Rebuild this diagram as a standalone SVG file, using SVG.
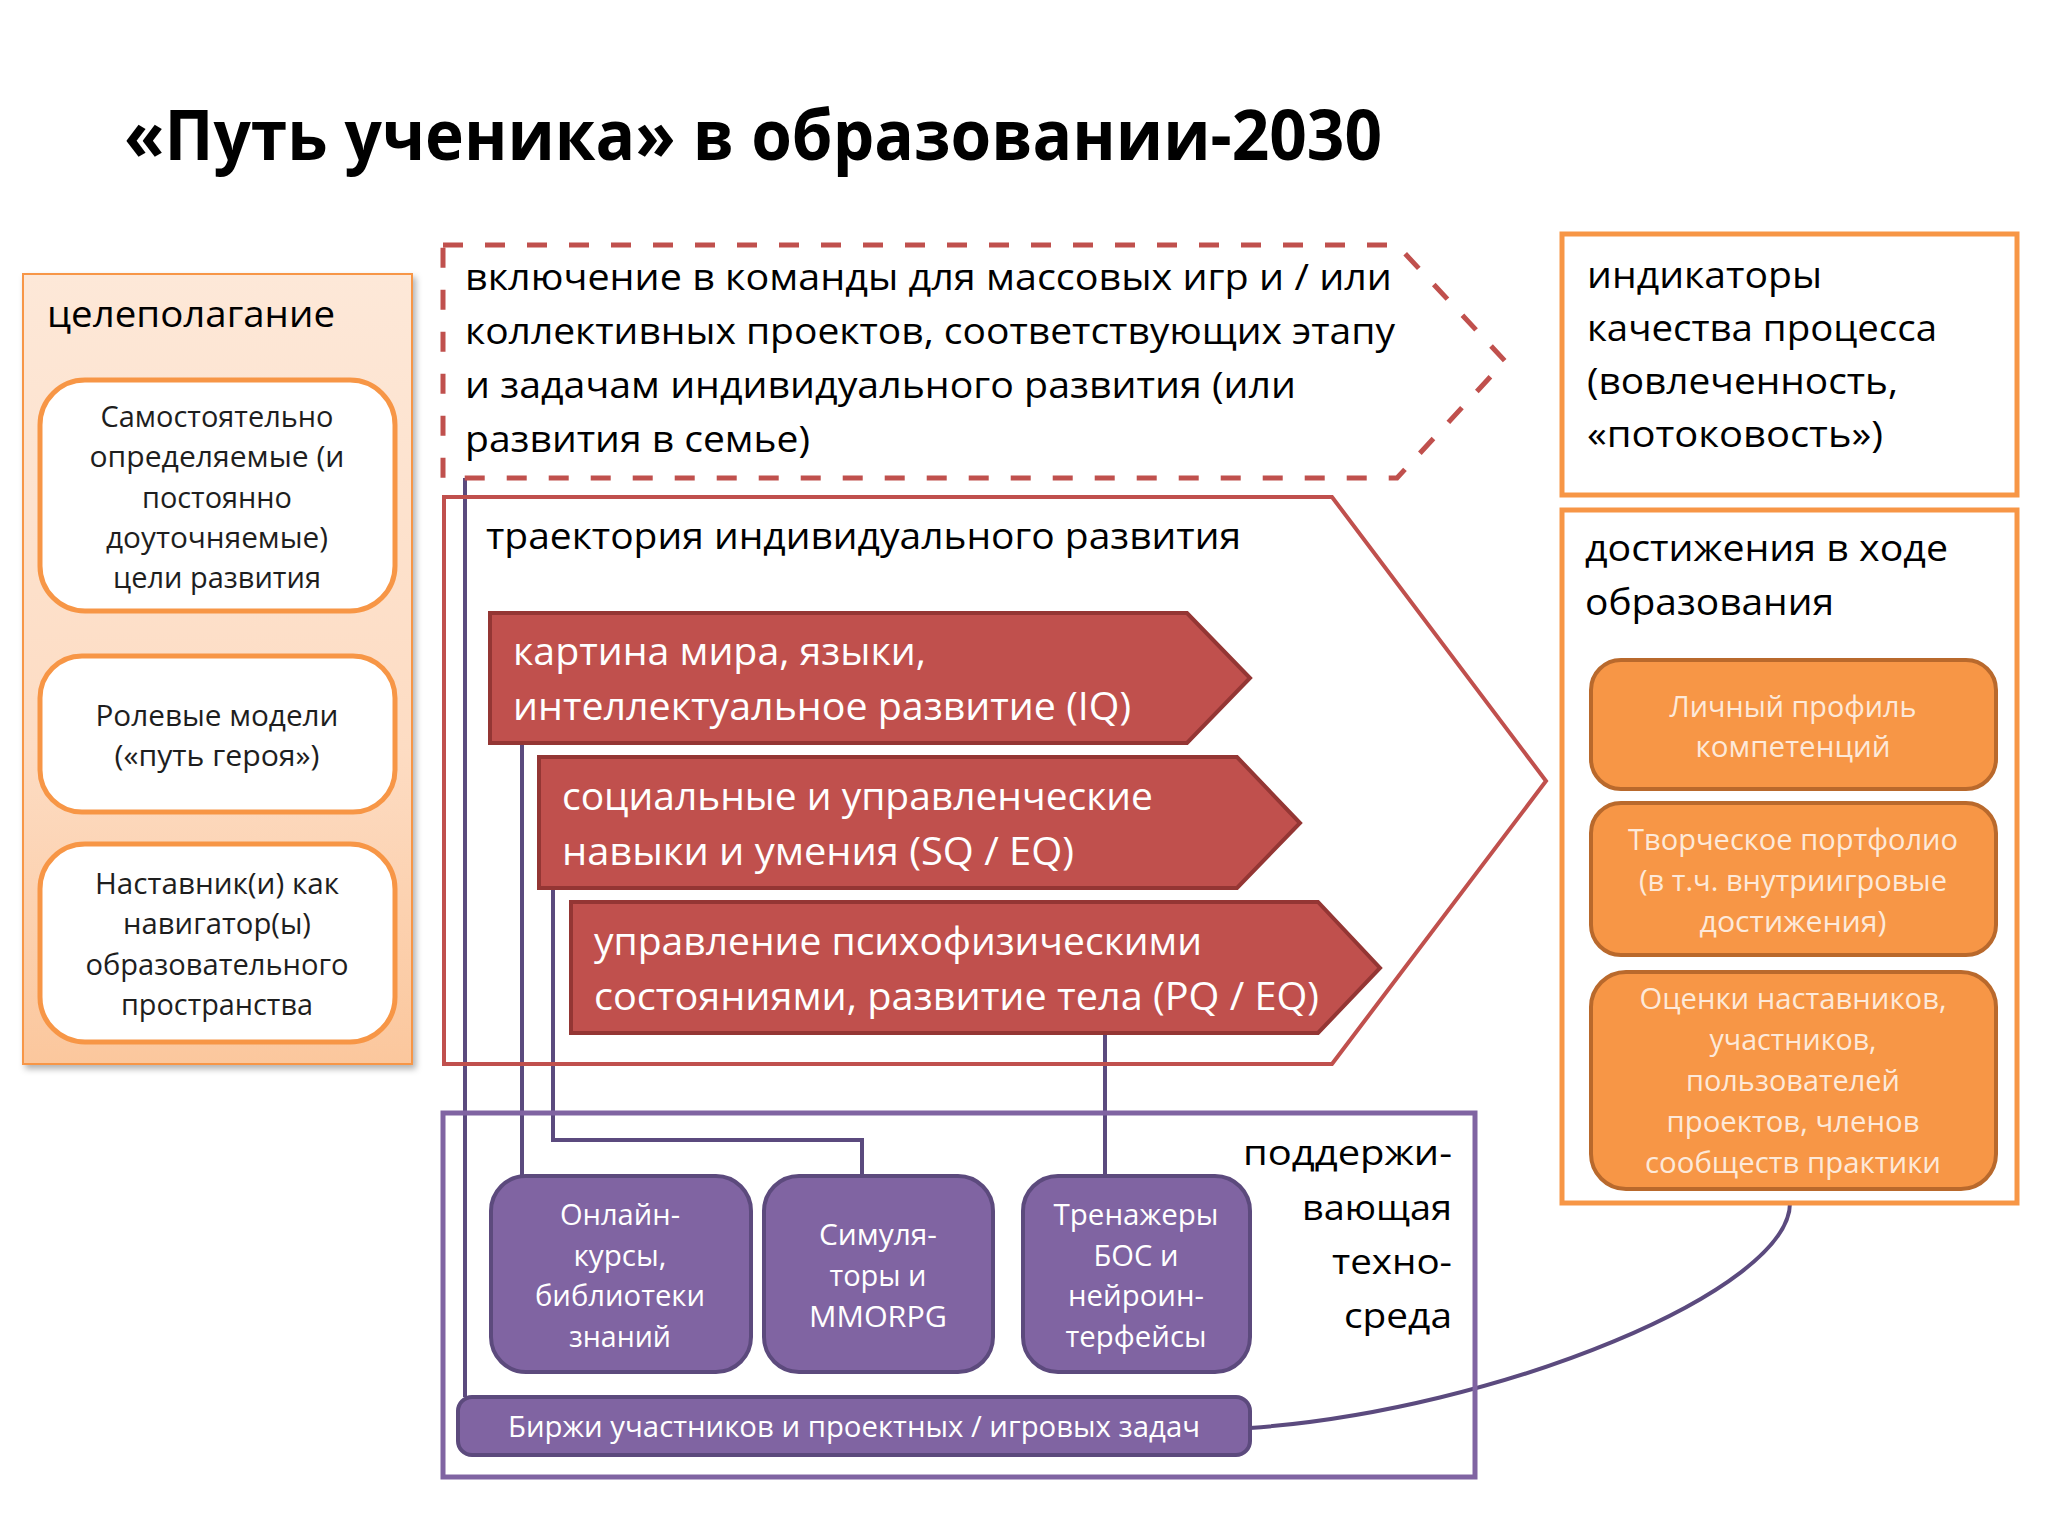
<svg xmlns="http://www.w3.org/2000/svg" width="2048" height="1536" viewBox="0 0 2048 1536">
<defs>
<linearGradient id="peach" x1="0" y1="0" x2="0" y2="1">
<stop offset="0" stop-color="#fde8d8"/>
<stop offset="0.6" stop-color="#fddcc3"/>
<stop offset="1" stop-color="#fbc79d"/>
</linearGradient>
<filter id="sh" x="-5%" y="-5%" width="115%" height="110%">
<feDropShadow dx="3" dy="4" stdDeviation="3" flood-color="#000" flood-opacity="0.3"/>
</filter>
<style>
text{font-family:"Open Sans","Liberation Sans",sans-serif}
.title{font-size:70px;font-weight:bold;fill:#000}
.h{font-size:37px;fill:#000}
.s{font-size:35px;fill:#000;text-anchor:end}
.b{font-size:30px;fill:#1e1e1e;text-anchor:middle}
.w{font-size:38px;fill:#fff}
.pw{font-size:29px;fill:#fff;text-anchor:middle}
.ow{font-size:29px;fill:#fde9d9;text-anchor:middle}
.wbox{fill:#fff;stroke:#f79646;stroke-width:5}
.obox{fill:#f79646;stroke:#b9692c;stroke-width:4}
.ofr{fill:#fff;stroke:#f79646;stroke-width:5}
.rarr{fill:#c0504d;stroke:#943634;stroke-width:4;stroke-linejoin:miter}
.pbox{fill:#8064a2;stroke:#5c4a7d;stroke-width:4}
.conn{fill:none;stroke:#5b4a7e;stroke-width:4}
</style>
</defs>
<rect width="2048" height="1536" fill="#fff"/>

<text class="title" x="124" y="160" textLength="1258" lengthAdjust="spacingAndGlyphs">«Путь ученика» в образовании-2030</text>

<g id="goal-setting">
<rect x="23" y="274" width="389" height="790" fill="url(#peach)" stroke="#f79646" stroke-width="2" filter="url(#sh)"/>
<text class="h" x="47" y="327" textLength="288" lengthAdjust="spacingAndGlyphs">целеполагание</text>
</g>
<g id="goals">
<rect class="wbox" x="40" y="380" width="355" height="231" rx="45"/>
<text class="b" x="217" y="427" textLength="233" lengthAdjust="spacingAndGlyphs">Самостоятельно</text>
<text class="b" x="217" y="467" textLength="255" lengthAdjust="spacingAndGlyphs">определяемые (и</text>
<text class="b" x="217" y="508" textLength="150" lengthAdjust="spacingAndGlyphs">постоянно</text>
<text class="b" x="217" y="548" textLength="222" lengthAdjust="spacingAndGlyphs">доуточняемые)</text>
<text class="b" x="217" y="588" textLength="208" lengthAdjust="spacingAndGlyphs">цели развития</text>
</g>
<g id="role-models">
<rect class="wbox" x="40" y="656" width="355" height="156" rx="42"/>
<text class="b" x="217" y="726" textLength="243" lengthAdjust="spacingAndGlyphs">Ролевые модели</text>
<text class="b" x="217" y="766" textLength="205" lengthAdjust="spacingAndGlyphs">(«путь героя»)</text>
</g>
<g id="mentors">
<rect class="wbox" x="40" y="844" width="355" height="198" rx="45"/>
<text class="b" x="217" y="894" textLength="244" lengthAdjust="spacingAndGlyphs">Наставник(и) как</text>
<text class="b" x="217" y="934" textLength="188" lengthAdjust="spacingAndGlyphs">навигатор(ы)</text>
<text class="b" x="217" y="975" textLength="263" lengthAdjust="spacingAndGlyphs">образовательного</text>
<text class="b" x="217" y="1015" textLength="192" lengthAdjust="spacingAndGlyphs">пространства</text>
</g>

<g id="connectors">
<path class="conn" d="M465,478 L465,1397"/>
<path class="conn" d="M522,743 L522,1176"/>
<path class="conn" d="M553,888 L553,1140 L862,1140 L862,1176"/>
<path class="conn" d="M1105,1033 L1105,1176"/>
<path class="conn" stroke-width="5" d="M1250,1428 C1500,1410 1790,1290 1790,1203"/>
</g>

<g id="teams">
<path d="M443,245 L1397,245 L1505,361 L1397,478 L443,478 Z" fill="none" stroke="#c0504d" stroke-width="5" stroke-dasharray="20 22"/>
<text class="h" x="465" y="290" textLength="927" lengthAdjust="spacingAndGlyphs">включение в команды для массовых игр и / или</text>
<text class="h" x="465" y="344" textLength="930" lengthAdjust="spacingAndGlyphs">коллективных проектов, соответствующих этапу</text>
<text class="h" x="465" y="398" textLength="831" lengthAdjust="spacingAndGlyphs">и задачам индивидуального развития (или</text>
<text class="h" x="465" y="452" textLength="345" lengthAdjust="spacingAndGlyphs">развития в семье)</text>
</g>

<g id="trajectory">
<path d="M444,497 L1332,497 L1546,781 L1332,1064 L444,1064 Z" fill="none" stroke="#c0504d" stroke-width="4"/>
<text class="h" x="486" y="549" textLength="755" lengthAdjust="spacingAndGlyphs">траектория индивидуального развития</text>
</g>
<g id="iq">
<path class="rarr" d="M490,613 L1187,613 L1250,678 L1187,743 L490,743 Z"/>
<text class="w" x="513" y="665" textLength="413" lengthAdjust="spacingAndGlyphs">картина мира, языки,</text>
<text class="w" x="513" y="720" textLength="618" lengthAdjust="spacingAndGlyphs">интеллектуальное развитие (IQ)</text>
</g>
<g id="sq">
<path class="rarr" d="M539,757 L1237,757 L1300,823 L1237,888 L539,888 Z"/>
<text class="w" x="562" y="810" textLength="591" lengthAdjust="spacingAndGlyphs">социальные и управленческие</text>
<text class="w" x="562" y="865" textLength="512" lengthAdjust="spacingAndGlyphs">навыки и умения (SQ / EQ)</text>
</g>
<g id="pq">
<path class="rarr" d="M571,902 L1318,902 L1380,968 L1318,1033 L571,1033 Z"/>
<text class="w" x="594" y="955" textLength="608" lengthAdjust="spacingAndGlyphs">управление психофизическими</text>
<text class="w" x="594" y="1010" textLength="725" lengthAdjust="spacingAndGlyphs">состояниями, развитие тела (PQ / EQ)</text>
</g>

<g id="support">
<rect x="443" y="1113" width="1032" height="364" fill="none" stroke="#8064a2" stroke-width="5"/>
<text class="s" x="1452" y="1165" textLength="209" lengthAdjust="spacingAndGlyphs">поддержи-</text>
<text class="s" x="1452" y="1220" textLength="150" lengthAdjust="spacingAndGlyphs">вающая</text>
<text class="s" x="1452" y="1274" textLength="120" lengthAdjust="spacingAndGlyphs">техно-</text>
<text class="s" x="1452" y="1328" textLength="108" lengthAdjust="spacingAndGlyphs">среда</text>
</g>
<g id="online">
<rect class="pbox" x="491" y="1176" width="260" height="196" rx="35"/>
<text class="pw" x="620" y="1225" textLength="120" lengthAdjust="spacingAndGlyphs">Онлайн-</text>
<text class="pw" x="620" y="1266" textLength="93" lengthAdjust="spacingAndGlyphs">курсы,</text>
<text class="pw" x="620" y="1306" textLength="170" lengthAdjust="spacingAndGlyphs">библиотеки</text>
<text class="pw" x="620" y="1347" textLength="102" lengthAdjust="spacingAndGlyphs">знаний</text>
</g>
<g id="simulators">
<rect class="pbox" x="764" y="1176" width="229" height="196" rx="35"/>
<text class="pw" x="878" y="1245" textLength="118" lengthAdjust="spacingAndGlyphs">Симуля-</text>
<text class="pw" x="878" y="1286" textLength="97" lengthAdjust="spacingAndGlyphs">торы и</text>
<text class="pw" x="878" y="1327" textLength="138" lengthAdjust="spacingAndGlyphs">MMORPG</text>
</g>
<g id="trainers">
<rect class="pbox" x="1023" y="1176" width="227" height="196" rx="35"/>
<text class="pw" x="1136" y="1225" textLength="165" lengthAdjust="spacingAndGlyphs">Тренажеры</text>
<text class="pw" x="1136" y="1266" textLength="85" lengthAdjust="spacingAndGlyphs">БОС и</text>
<text class="pw" x="1136" y="1306" textLength="136" lengthAdjust="spacingAndGlyphs">нейроин-</text>
<text class="pw" x="1136" y="1347" textLength="141" lengthAdjust="spacingAndGlyphs">терфейсы</text>
</g>
<g id="exchanges">
<rect class="pbox" x="458" y="1397" width="792" height="58" rx="14"/>
<text class="pw" x="854" y="1437" textLength="692" lengthAdjust="spacingAndGlyphs">Биржи участников и проектных / игровых задач</text>
</g>

<g id="indicators">
<rect class="ofr" x="1562" y="234" width="455" height="261"/>
<text class="h" x="1587" y="288" textLength="235" lengthAdjust="spacingAndGlyphs">индикаторы</text>
<text class="h" x="1587" y="341" textLength="350" lengthAdjust="spacingAndGlyphs">качества процесса</text>
<text class="h" x="1587" y="394" textLength="311" lengthAdjust="spacingAndGlyphs">(вовлеченность,</text>
<text class="h" x="1587" y="447" textLength="296" lengthAdjust="spacingAndGlyphs">«потоковость»)</text>
</g>
<g id="achievements">
<rect class="ofr" x="1562" y="510" width="455" height="693"/>
<text class="h" x="1585" y="561" textLength="363" lengthAdjust="spacingAndGlyphs">достижения в ходе</text>
<text class="h" x="1585" y="615" textLength="249" lengthAdjust="spacingAndGlyphs">образования</text>
</g>
<g id="profile">
<rect class="obox" x="1591" y="660" width="405" height="129" rx="30"/>
<text class="ow" x="1793" y="717" textLength="247" lengthAdjust="spacingAndGlyphs">Личный профиль</text>
<text class="ow" x="1793" y="757" textLength="195" lengthAdjust="spacingAndGlyphs">компетенций</text>
</g>
<g id="portfolio">
<rect class="obox" x="1591" y="803" width="405" height="152" rx="30"/>
<text class="ow" x="1793" y="850" textLength="330" lengthAdjust="spacingAndGlyphs">Творческое портфолио</text>
<text class="ow" x="1793" y="891" textLength="308" lengthAdjust="spacingAndGlyphs">(в т.ч. внутриигровые</text>
<text class="ow" x="1793" y="932" textLength="187" lengthAdjust="spacingAndGlyphs">достижения)</text>
</g>
<g id="ratings">
<rect class="obox" x="1591" y="972" width="405" height="217" rx="35"/>
<text class="ow" x="1793" y="1009" textLength="307" lengthAdjust="spacingAndGlyphs">Оценки наставников,</text>
<text class="ow" x="1793" y="1050" textLength="167" lengthAdjust="spacingAndGlyphs">участников,</text>
<text class="ow" x="1793" y="1091" textLength="214" lengthAdjust="spacingAndGlyphs">пользователей</text>
<text class="ow" x="1793" y="1132" textLength="253" lengthAdjust="spacingAndGlyphs">проектов, членов</text>
<text class="ow" x="1793" y="1173" textLength="296" lengthAdjust="spacingAndGlyphs">сообществ практики</text>
</g>
</svg>
